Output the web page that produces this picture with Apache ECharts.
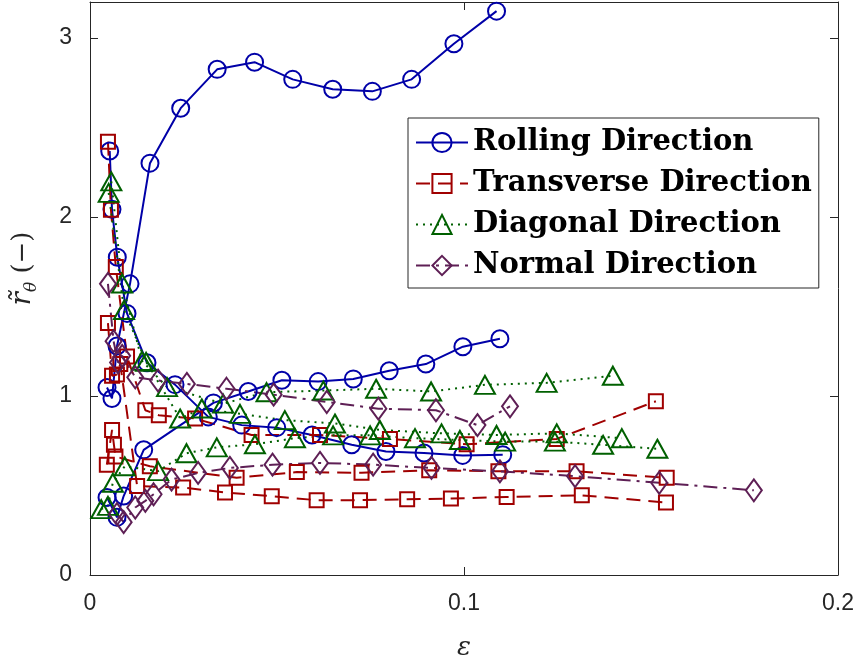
<!DOCTYPE html>
<html>
<head>
<meta charset="utf-8">
<script src="https://cdn.jsdelivr.net/npm/echarts@6/dist/echarts.min.js"></script>
<style>
html,body{margin:0;padding:0;background:#fff;}
#chart{width:858px;height:666px;}
</style>
</head>
<body>
<div id="chart"></div>
<script>
// ---- data: [strain, r-value] pairs per specimen ----
const rolling1 = [[0.00455,1.047],[0.00588,0.986],[0.00722,1.279],[0.0107,1.626],[0.01604,2.30],[0.02425,2.607],[0.0340,2.824],[0.0440,2.864],[0.0542,2.768],[0.0649,2.713],[0.0755,2.701],[0.0860,2.768],[0.0973,2.967],[0.1087,3.149]];
const rolling2 = [[0.00527,2.368],[0.00588,2.042],[0.0073,1.775],[0.0099,1.461],[0.01524,1.185],[0.02273,1.063],[0.03163,0.883],[0.04056,0.837],[0.04992,0.823],[0.05936,0.782],[0.06997,0.727],[0.07914,0.690],[0.0893,0.681],[0.09965,0.668],[0.11035,0.672]];
const rolling3 = [[0.00455,0.433],[0.00722,0.322],[0.0090,0.441],[0.01436,0.699],[0.0330,0.961],[0.0423,1.025],[0.0513,1.088],[0.0610,1.080],[0.0704,1.095],[0.0800,1.141],[0.0898,1.178],[0.0997,1.275],[0.1096,1.319]];

const transverse1 = [[0.0048,2.42],[0.0056,2.04],[0.0069,1.72],[0.0099,1.22],[0.0148,0.92],[0.0184,0.892],[0.0281,0.874],[0.0432,0.782],[0.0615,0.782],[0.0802,0.76],[0.1007,0.73],[0.1248,0.76],[0.1513,0.97]];
const transverse2 = [[0.0045,0.616],[0.0059,0.81],[0.0064,0.727],[0.0068,0.662],[0.0160,0.607],[0.0392,0.543],[0.0553,0.575],[0.0726,0.571],[0.0907,0.585],[0.1092,0.579],[0.1301,0.579],[0.1542,0.543]];
const transverse3 = [[0.0048,1.407],[0.0059,1.113],[0.0072,1.12],[0.0081,1.178],[0.0126,0.497],[0.0249,0.488],[0.0361,0.461],[0.0486,0.44],[0.0606,0.418],[0.0722,0.418],[0.0848,0.423],[0.0965,0.427],[0.1114,0.436],[0.1315,0.445],[0.154,0.405]];

const diagonal1 = [[0.0057,2.198],[0.0086,1.628],[0.0139,1.196],[0.0206,1.049],[0.0356,0.957],[0.0472,1.021],[0.0624,1.03],[0.0765,1.04],[0.0912,1.025],[0.1056,1.062],[0.1221,1.073],[0.1398,1.113]];
const diagonal2 = [[0.0050,2.134],[0.0091,1.48],[0.0150,1.19],[0.0241,0.874],[0.0299,0.93],[0.0401,0.90],[0.0521,0.865],[0.0655,0.846],[0.0775,0.81],[0.0940,0.791],[0.1087,0.782],[0.1248,0.791],[0.1422,0.764]];
const diagonal3 = [[0.0030,0.368],[0.0048,0.386],[0.0061,0.515],[0.0093,0.607],[0.0182,0.58],[0.0258,0.68],[0.0339,0.713],[0.0441,0.73],[0.0548,0.764],[0.0650,0.78],[0.0749,0.78],[0.0869,0.764],[0.0989,0.754],[0.1110,0.745],[0.1243,0.745],[0.1372,0.727],[0.1517,0.705]];

const normal1 = [[0.0048,1.626],[0.0063,1.306],[0.0075,1.187],[0.0086,1.224],[0.0121,1.104],[0.0182,1.086],[0.0259,1.067],[0.0365,1.04],[0.0491,1.007],[0.0633,0.966],[0.0771,0.929],[0.0925,0.92],[0.1036,0.837],[0.1123,0.942]];
const normal2 = [[0.0072,0.34],[0.0090,0.295],[0.0121,0.377],[0.0148,0.414],[0.0170,0.451],[0.0218,0.533],[0.0289,0.57],[0.0374,0.598],[0.0488,0.616],[0.0615,0.626],[0.0757,0.616],[0.0913,0.598],[0.1096,0.579],[0.1297,0.552],[0.1522,0.515],[0.1775,0.473]];

const seriesNames = ['Rolling Direction','Transverse Direction','Diagonal Direction','Normal Direction'];
const yTicks = [0,1,2,3];
const xTicks = [0,0.1,0.2];

// ---- styles ----
const styles = {
  'Rolling Direction':    {color:'#0000a8', symbol:'circle',   size:17,      dash:'solid'},
  'Transverse Direction': {color:'#a00000', symbol:'rect',     size:14,      dash:[14,8]},
  'Diagonal Direction':   {color:'#006000', symbol:'triangle', size:[20,18], dash:[2,5]},
  'Normal Direction':     {color:'#5e1f55', symbol:'diamond',  size:[16,22], dash:[14,6,3,6]}
};
const groups = [
  ['Rolling Direction',[rolling1,rolling2,rolling3]],
  ['Transverse Direction',[transverse1,transverse2,transverse3]],
  ['Diagonal Direction',[diagonal1,diagonal2,diagonal3]],
  ['Normal Direction',[normal1,normal2]]
];
const series = [];
groups.forEach(([name, curves]) => {
  const s = styles[name];
  curves.forEach(d => {
    series.push({
      type:'line', name, data:d, xAxisIndex:0, yAxisIndex:0,
      symbol:s.symbol, symbolSize:s.size, showSymbol:true,
      lineStyle:{color:s.color, width:2, type:s.dash},
      itemStyle:{color:'rgba(0,0,0,0)', borderColor:s.color, borderWidth:2},
      emphasis:{disabled:true}, z:2
    });
  });
});

const axisColor = '#262626';
const chart = echarts.init(document.getElementById('chart'), null, {renderer:'canvas'});
chart.setOption({
  animation:false,
  backgroundColor:'#fff',
  grid:{left:90, right:20, top:2, bottom:84, containLabel:false},
  legend:{
    orient:'vertical', left:408, top:118,
    padding:[10,7,8,7], itemGap:12, itemWidth:52, itemHeight:24,
    borderColor:axisColor, borderWidth:1, backgroundColor:'#fff',
    textStyle:{fontFamily:'DejaVu Serif', fontWeight:'bold', fontSize:29, lineHeight:28, color:'#000'},
    data: seriesNames.map(n => ({
      name:n,
      itemStyle:{color:'rgba(0,0,0,0)', borderColor:styles[n].color, borderWidth:2},
      lineStyle:{color:styles[n].color, width:2, type:styles[n].dash}
    }))
  },
  xAxis:[{
    type:'value', min:0, max:0.2, interval:0.1, position:'bottom',
    name:'ε', nameLocation:'middle', nameGap:60,
    nameTextStyle:{fontFamily:'DejaVu Serif', fontStyle:'italic', fontSize:26, color:axisColor},
    axisLine:{show:true, onZero:false, lineStyle:{color:axisColor, width:1}},
    axisTick:{show:true, inside:true, length:8, lineStyle:{color:axisColor}},
    axisLabel:{show:true, margin:17, fontFamily:'Liberation Sans', fontSize:23, color:axisColor,
      formatter: v => (xTicks.includes(+v.toFixed(3)) ? String(+v.toFixed(3)) : '')},
    splitLine:{show:false}
  },{
    type:'value', min:0, max:0.2, interval:0.1, position:'top',
    axisLine:{show:true, onZero:false, lineStyle:{color:axisColor, width:1}},
    axisTick:{show:true, inside:true, length:8, lineStyle:{color:axisColor}},
    axisLabel:{show:false}, splitLine:{show:false}
  }],
  yAxis:[{
    type:'value', min:0, max:3.2, position:'left',
    name:'{a|r̃}{b|θ}{c| (−)}', nameLocation:'middle', nameGap:50,
    nameTextStyle:{color:axisColor, padding:[0,0,0,40], rich:{
      a:{fontFamily:'DejaVu Serif', fontStyle:'italic', fontSize:28, lineHeight:34, color:axisColor},
      b:{fontFamily:'DejaVu Serif', fontStyle:'italic', fontSize:17, lineHeight:22, verticalAlign:'bottom', color:axisColor},
      c:{fontFamily:'DejaVu Serif', fontSize:26, lineHeight:34, color:axisColor}
    }},
    axisLine:{show:true, onZero:false, lineStyle:{color:axisColor, width:1}},
    axisTick:{show:true, inside:true, length:8, customValues:yTicks, lineStyle:{color:axisColor}},
    axisLabel:{show:true, margin:18, customValues:yTicks, fontFamily:'Liberation Sans', fontSize:23, color:axisColor},
    splitLine:{show:false}
  },{
    type:'value', min:0, max:3.2, position:'right',
    axisLine:{show:true, onZero:false, lineStyle:{color:axisColor, width:1}},
    axisTick:{show:true, inside:true, length:8, customValues:yTicks, lineStyle:{color:axisColor}},
    axisLabel:{show:false}, splitLine:{show:false}
  }],
  series
});
</script>
</body>
</html>
